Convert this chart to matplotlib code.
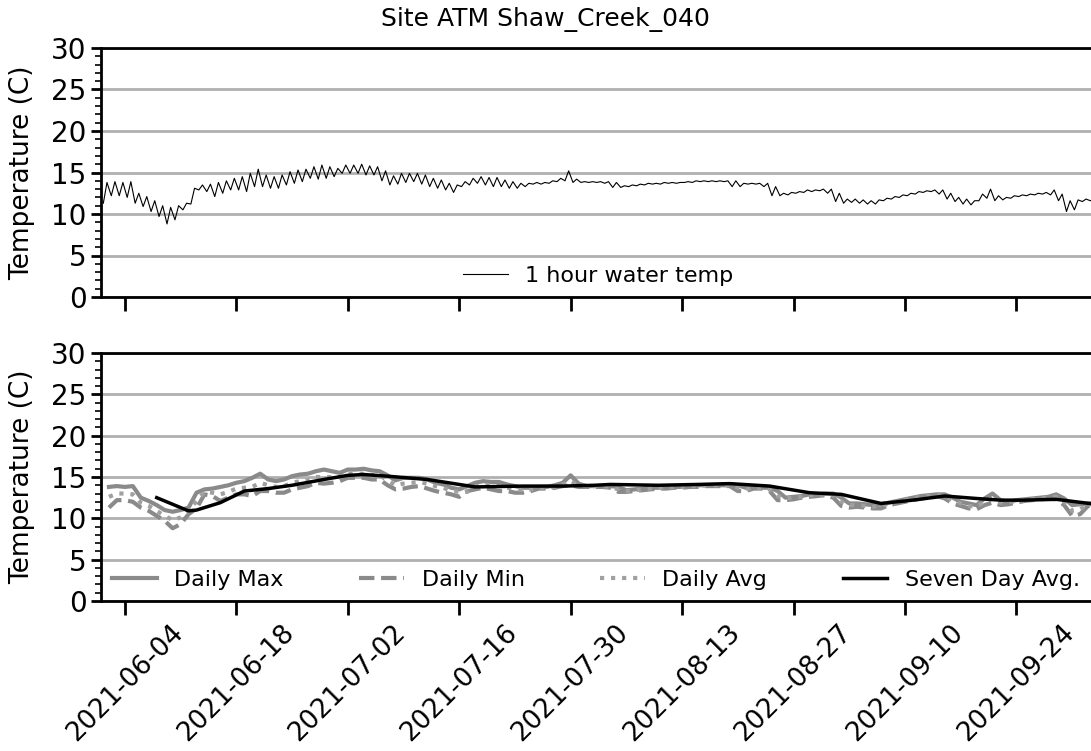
import matplotlib
matplotlib.use('Agg')
import matplotlib.pyplot as plt
import matplotlib.dates as mdates
import numpy as np
import pandas as pd

# site / period
site = 'Site ATM Shaw_Creek_040'
start = '2021-06-01'

# daily stats, one value per day from 2021-06-01
daily_max = [13.8, 13.9, 13.8, 13.9, 12.5, 12.1, 11.6, 11.0, 10.8, 11.0, 11.3, 13.1,
             13.5, 13.6, 13.8, 14.0, 14.3, 14.5, 14.9, 15.4, 14.7, 14.5, 14.7, 15.1, 15.3, 15.4, 15.7, 15.9, 15.7, 15.5, 15.9,
             15.9, 16.0, 15.8, 15.7, 15.2, 14.6, 14.9, 14.9, 14.9, 14.7, 14.3, 14.1, 13.7, 13.5, 13.9, 14.3, 14.5, 14.4, 14.4,
             14.1, 13.9, 13.7, 13.7, 13.8, 13.8, 14.0, 14.3, 15.2, 14.2,
             13.9, 13.9, 13.9, 13.9, 13.8, 13.4, 13.5, 13.6, 13.7, 13.7,
             13.8, 13.8, 13.8, 13.9, 14.0, 14.0, 14.0, 14.0, 14.0, 14.0,
             13.7, 13.7, 13.7, 13.7, 13.3, 12.5, 12.6, 12.7, 12.9, 12.9,
             13.0, 13.0, 12.5, 11.8, 11.8, 11.7, 11.6, 11.7, 11.9, 12.1,
             12.3, 12.5, 12.7, 12.8, 12.9, 12.9, 12.5, 12.0, 11.8, 11.6,
             12.4, 13.0, 12.2, 12.0, 12.2, 12.3, 12.4, 12.5, 12.6, 12.9,
             12.4, 11.6, 11.7, 11.8, 11.8]

daily_min = [11.3, 12.2, 12.2, 12.0, 11.3, 10.9, 10.3, 9.7, 8.8, 9.3, 10.5, 11.2,
             12.9, 12.7, 12.1, 12.5, 12.9, 12.9, 12.7, 13.3, 13.3, 13.1, 13.1, 13.5, 13.7, 13.9, 14.3, 14.2, 14.3, 14.5, 14.9,
             14.9, 14.9, 14.7, 14.7, 14.0, 13.5, 13.6, 13.8, 13.9, 13.6, 13.3, 13.1, 12.9, 12.6, 13.3, 13.5, 13.7, 13.5, 13.3,
             13.3, 13.1, 13.1, 13.3, 13.6, 13.6, 13.7, 13.9, 14.0, 13.8,
             13.8, 13.8, 13.8, 13.7, 13.2, 13.2, 13.3, 13.4, 13.5, 13.6,
             13.6, 13.7, 13.7, 13.8, 13.8, 13.9, 13.9, 13.9, 13.9, 13.3,
             13.3, 13.6, 13.6, 13.3, 12.2, 12.2, 12.3, 12.5, 12.6, 12.7,
             12.8, 12.5, 11.5, 11.3, 11.4, 11.3, 11.2, 11.2, 11.6, 11.8,
             12.0, 12.2, 12.4, 12.6, 12.7, 12.4, 11.8, 11.5, 11.2, 11.1,
             11.6, 11.9, 11.6, 11.7, 11.9, 12.1, 12.2, 12.3, 12.4, 12.3,
             11.6, 10.3, 10.5, 11.5, 11.6]

daily_avg = [12.6, 13.0, 13.0, 12.9, 11.9, 11.5, 10.9, 10.3, 9.8, 10.1, 10.9, 12.1,
             13.2, 13.1, 12.9, 13.2, 13.6, 13.7, 13.8, 14.3, 14.0, 13.8, 13.9, 14.3, 14.5, 14.6, 15.0, 15.0, 15.0, 15.0, 15.4,
             15.4, 15.4, 15.2, 15.2, 14.6, 14.0, 14.2, 14.3, 14.4, 14.2, 13.9, 13.7, 13.3, 13.2, 13.2, 13.8, 14.1, 14.0, 13.9,
             13.7, 13.5, 13.4, 13.5, 13.7, 13.7, 13.8, 14.1, 14.5, 14.0,
             13.9, 13.9, 13.9, 13.8, 13.5, 13.3, 13.4, 13.5, 13.6, 13.7,
             13.7, 13.8, 13.8, 13.9, 13.9, 14.0, 14.0, 14.0, 14.0, 13.7,
             13.5, 13.7, 13.7, 13.5, 12.7, 12.4, 12.5, 12.6, 12.8, 12.8,
             12.9, 12.8, 12.0, 11.6, 11.6, 11.5, 11.4, 11.5, 11.8, 12.0,
             12.2, 12.4, 12.6, 12.7, 12.8, 12.7, 12.2, 11.8, 11.5, 11.4,
             12.0, 12.4, 11.9, 11.9, 12.1, 12.2, 12.3, 12.4, 12.5, 12.6,
             12.0, 10.9, 11.1, 11.7, 11.7]

# seven day running average
week_dates = ['2021-06-08', '2021-06-10', '2021-06-12', '2021-06-13', '2021-06-16', '2021-06-19',
              '2021-06-22', '2021-06-25', '2021-06-29', '2021-07-02', '2021-07-04', '2021-07-07',
              '2021-07-12', '2021-07-16', '2021-07-18', '2021-07-24', '2021-07-29', '2021-08-02',
              '2021-08-04', '2021-08-10', '2021-08-15', '2021-08-19', '2021-08-24', '2021-08-29',
              '2021-09-02', '2021-09-07', '2021-09-11', '2021-09-15', '2021-09-19', '2021-09-22',
              '2021-09-25', '2021-09-29', '2021-10-04']
week_avg = [12.5, 11.7, 10.9, 11.0, 11.9, 13.3, 13.6, 14.0, 14.7, 15.2, 15.3, 15.1,
            14.7, 14.1, 13.8, 13.9, 13.9, 14.0, 14.1, 14.0, 14.1, 14.2, 13.9, 13.1,
            12.9, 11.8, 12.2, 12.7, 12.4, 12.2, 12.2, 12.3, 11.7]

tick_dates = ['2021-06-04', '2021-06-18', '2021-07-02', '2021-07-16', '2021-07-30',
              '2021-08-13', '2021-08-27', '2021-09-10', '2021-09-24']


days = pd.date_range(start, periods=len(daily_max), freq='D')

# hourly trace: daily low in the morning, high in the evening
hour_t = np.empty(2 * len(days), dtype='datetime64[ns]')
hour_t[0::2] = (days + pd.Timedelta(hours=7)).values
hour_t[1::2] = (days + pd.Timedelta(hours=18)).values
hour_v = np.empty(2 * len(days))
hour_v[0::2] = daily_min
hour_v[1::2] = daily_max

# daily stats are stamped at the end of the day
stat_dates = days + pd.Timedelta(days=1)

plt.rcParams['font.family'] = 'DejaVu Sans'

fig = plt.figure(figsize=(10.91, 7.51), dpi=100)
ax1 = fig.add_axes([101 / 1091, 1 - 297 / 751, 995 / 1091, 249 / 751])
ax2 = fig.add_axes([101 / 1091, 1 - 601 / 751, 995 / 1091, 248 / 751])

fig.text(0.5, 1 - 20 / 751, site, ha='center', va='center', fontsize=18)

ax1.plot(hour_t, hour_v, color='k', linewidth=0.8, label='1 hour water temp')

ax2.plot(stat_dates, daily_max, color='#8a8a8a', linewidth=3, label='Daily Max')
ax2.plot(stat_dates, daily_min, color='#8a8a8a', linewidth=3, linestyle='--', label='Daily Min')
ax2.plot(stat_dates, daily_avg, color='#a0a0a0', linewidth=3, linestyle=':', label='Daily Avg')
ax2.plot(pd.to_datetime(week_dates), week_avg, color='k', linewidth=2.5, label='Seven Day Avg.')

ticks = pd.to_datetime(tick_dates)
for ax in (ax1, ax2):
    ax.set_xlim(pd.Timestamp('2021-06-01'), pd.Timestamp('2021-10-04'))
    ax.set_ylim(0, 30)
    ax.set_yticks(np.arange(0, 31, 5))
    ax.set_yticks(np.arange(0, 31, 1), minor=True)
    ax.set_xticks(ticks)
    ax.grid(axis='y', which='major', color='#b0b0b0', linewidth=2)
    ax.set_axisbelow(True)
    for s in ax.spines.values():
        s.set_linewidth(2)
    ax.tick_params(axis='both', which='major', width=2, length=7)
    ax.tick_params(axis='y', which='major', labelsize=20)
    ax.tick_params(axis='x', which='major', labelsize=19, length=10)
    ax.tick_params(axis='y', which='minor', width=1.2, length=4)
    ax.set_ylabel('Temperature (C)', fontsize=19)
    ax.yaxis.set_label_coords(-0.066, 0.5)

ax1.set_xticklabels([])
ax2.xaxis.set_major_formatter(mdates.DateFormatter('%Y-%m-%d'))
plt.setp(ax2.get_xticklabels(), rotation=45, ha='center')

ax1.legend(loc='lower center', frameon=False, fontsize=16, borderaxespad=0.1)
ax2.legend(loc='lower left', ncol=4, mode='expand', frameon=False, fontsize=16,
           bbox_to_anchor=(0, 0, 0.995, 1), borderaxespad=0.1)

fig.savefig('out.png', dpi=100)
